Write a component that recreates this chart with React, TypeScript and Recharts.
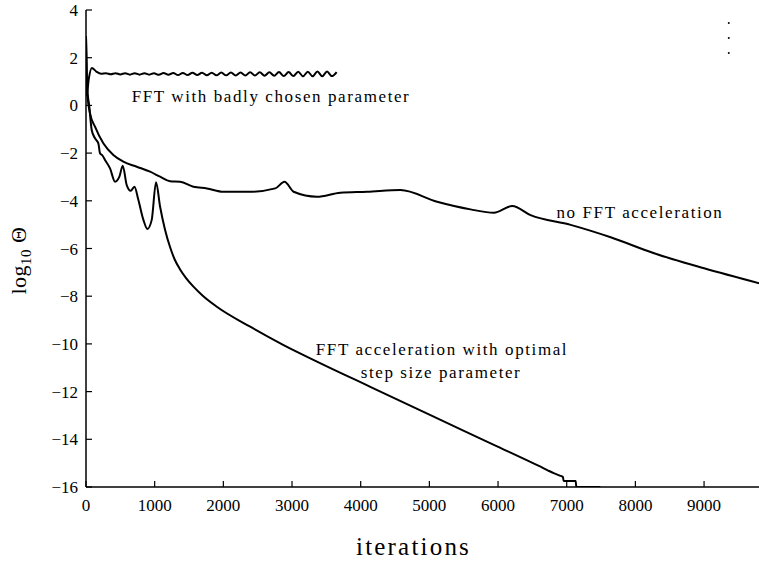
import React from 'react';
import { ComposedChart, Line, XAxis, YAxis, ReferenceDot } from 'recharts';

// iterations, log10(Theta)
const badlyX = [0, 10, 40, 85, 150, 220, 290, 360, 430, 500, 570, 640, 710, 780, 850, 920, 990, 1060, 1130, 1200, 1270, 1340, 1410, 1480, 1550, 1620, 1690, 1760, 1830, 1900, 1970, 2040, 2110, 2180, 2250, 2320, 2390, 2460, 2530, 2600, 2670, 2740, 2810, 2880, 2950, 3020, 3090, 3160, 3230, 3300, 3370, 3440, 3510, 3580, 3650];
const badlyY = [2.9, 0.4, 1.1, 1.57, 1.42, 1.33, 1.35, 1.31, 1.35, 1.3, 1.35, 1.29, 1.35, 1.29, 1.35, 1.29, 1.35, 1.28, 1.36, 1.28, 1.36, 1.27, 1.36, 1.27, 1.37, 1.27, 1.37, 1.26, 1.37, 1.26, 1.38, 1.26, 1.38, 1.25, 1.38, 1.25, 1.39, 1.25, 1.39, 1.24, 1.39, 1.24, 1.4, 1.23, 1.4, 1.23, 1.41, 1.22, 1.41, 1.22, 1.42, 1.22, 1.42, 1.23, 1.4];

const noFftX = [0, 20, 58, 131, 252, 398, 544, 739, 933, 1079, 1224, 1370, 1565, 1760, 2002, 2391, 2756, 2891, 3023, 3363, 3703, 4093, 4578, 5113, 5599, 5939, 6206, 6474, 7057, 7640, 8272, 9001, 9805];
const noFftY = [2.9, 0.5, -0.33, -0.89, -1.59, -2.08, -2.36, -2.57, -2.78, -2.99, -3.18, -3.2, -3.41, -3.48, -3.62, -3.62, -3.48, -3.2, -3.62, -3.83, -3.66, -3.62, -3.55, -4.04, -4.36, -4.5, -4.22, -4.6, -5.01, -5.53, -6.2, -6.83, -7.46];

const optimalX = [0, 15, 48, 83, 131, 180, 204, 240, 277, 350, 423, 486, 535, 593, 651, 705, 763, 836, 894, 957, 1020, 1079, 1150, 1225, 1290, 1370, 1460, 1565, 1700, 1905, 2391, 2877, 3363, 4140, 5016, 5939, 6619, 6717, 6810, 6900, 6945, 6955, 7130, 7140, 7490];
const optimalY = [2.9, 0.8, -0.05, -1.03, -1.38, -1.59, -2.01, -2.1, -2.29, -2.64, -3.2, -2.99, -2.53, -3.34, -3.58, -3.41, -3.97, -4.8, -5.18, -4.8, -3.22, -4.25, -5.2, -5.95, -6.45, -6.88, -7.25, -7.6, -7.98, -8.44, -9.28, -10.05, -10.74, -11.8, -12.99, -14.23, -15.15, -15.29, -15.42, -15.52, -15.58, -15.75, -15.75, -16, -16];

const dotsX = [9360, 9360, 9360];
const dotsY = [3.45, 2.83, 2.2];

const xTicks = [0, 1000, 2000, 3000, 4000, 5000, 6000, 7000, 8000, 9000];
const yTicks = [4, 2, 0, -2, -4, -6, -8, -10, -12, -14, -16];

const annotationText = ['FFT with badly chosen parameter', 'no FFT acceleration', 'FFT acceleration with optimal', 'step size parameter'];
const annotationX = [2694, 8067, 5184, 5170];
const annotationY = [0.39, -4.47, -10.21, -11.18];

const zip = (xs: number[], ys: number[]) => xs.map((x, i) => ({ x, y: ys[i] }));
const badly = zip(badlyX, badlyY);
const noFft = zip(noFftX, noFftY);
const optimal = zip(optimalX, optimalY);
const dots = zip(dotsX, dotsY);

const FONT = "'Liberation Serif', serif";
const minus = (v: number) => String(v).replace('-', '\u2212');

const YLabel = (props: any) => {
  const vb = props.viewBox || {};
  const x = (vb.x || 0) + 26;
  const y = (vb.y || 0) + (vb.height || 0) / 2 + 12;
  return (
    <text x={x} y={y} transform={`rotate(-90, ${x}, ${y})`} textAnchor="middle" style={{ fontFamily: FONT }} fontSize={22} letterSpacing={0.5} fill="#000">
      log<tspan dy={5} fontSize={15}>10</tspan>
      <tspan dy={-5}> Θ</tspan>
    </text>
  );
};

const XLabel = (props: any) => {
  const vb = props.viewBox || {};
  const x = (vb.x || 0) + (vb.width || 0) / 2 - 9;
  const y = (vb.y || 0) + 68;
  return (
    <text x={x} y={y} textAnchor="middle" style={{ fontFamily: FONT }} fontSize={25} letterSpacing={2.2} fill="#000">
      iterations
    </text>
  );
};

export default function App() {
  const tickStyle = { fill: '#000', fontSize: 17, style: { fontFamily: FONT } };
  return (
    <div style={{ position: 'absolute', left: 0, top: 0, background: '#fff', fontFamily: FONT }}>
      <ComposedChart width={759} height={567} margin={{ top: 10, right: 0, bottom: 0, left: 0 }} style={{ fontFamily: FONT }}>
        <XAxis
          xAxisId="b"
          type="number"
          dataKey="x"
          domain={[0, 9800]}
          ticks={xTicks}
          allowDataOverflow
          orientation="bottom"
          height={80}
          tickSize={-6}
          tickMargin={18}
          tick={tickStyle}
          axisLine={{ stroke: '#000', strokeWidth: 1.5 }}
          tickLine={{ stroke: '#000', strokeWidth: 1.2 }}
          label={<XLabel />}
        />
        <XAxis
          xAxisId="t"
          type="number"
          dataKey="x"
          domain={[0, 9800]}
          ticks={xTicks}
          allowDataOverflow
          orientation="top"
          height={0}
          tickSize={-6}
          tickFormatter={() => ''}
          axisLine={{ stroke: '#000', strokeWidth: 1.5 }}
          tickLine={{ stroke: '#000', strokeWidth: 1.2 }}
        />
        <YAxis
          type="number"
          domain={[-16, 4]}
          ticks={yTicks}
          allowDataOverflow
          width={86}
          tickSize={-6}
          tickMargin={14}
          tick={tickStyle}
          tickFormatter={minus}
          axisLine={{ stroke: '#000', strokeWidth: 1.5 }}
          tickLine={{ stroke: '#000', strokeWidth: 1.2 }}
          label={<YLabel />}
        />
        <Line xAxisId="b" data={badly} dataKey="y" type="monotone" stroke="#000" strokeWidth={2} dot={false} isAnimationActive={false} />
        <Line xAxisId="b" data={noFft} dataKey="y" type="monotone" stroke="#000" strokeWidth={2} dot={false} isAnimationActive={false} />
        <Line xAxisId="b" data={optimal} dataKey="y" type="monotone" stroke="#000" strokeWidth={2} dot={false} isAnimationActive={false} />
        <Line xAxisId="b" data={dots} dataKey="y" type="linear" stroke="none" dot={{ r: 1, fill: '#000', stroke: 'none' }} isAnimationActive={false} />
        {annotationText.map((t, i) => (
          <ReferenceDot
            key={t}
            xAxisId="b"
            x={annotationX[i]}
            y={annotationY[i]}
            r={0}
            stroke="none"
            fill="none"
            label={{ value: t, position: 'center', fill: '#000', fontSize: 17, letterSpacing: 1.6, style: { fontFamily: FONT } }}
          />
        ))}
      </ComposedChart>
    </div>
  );
}
